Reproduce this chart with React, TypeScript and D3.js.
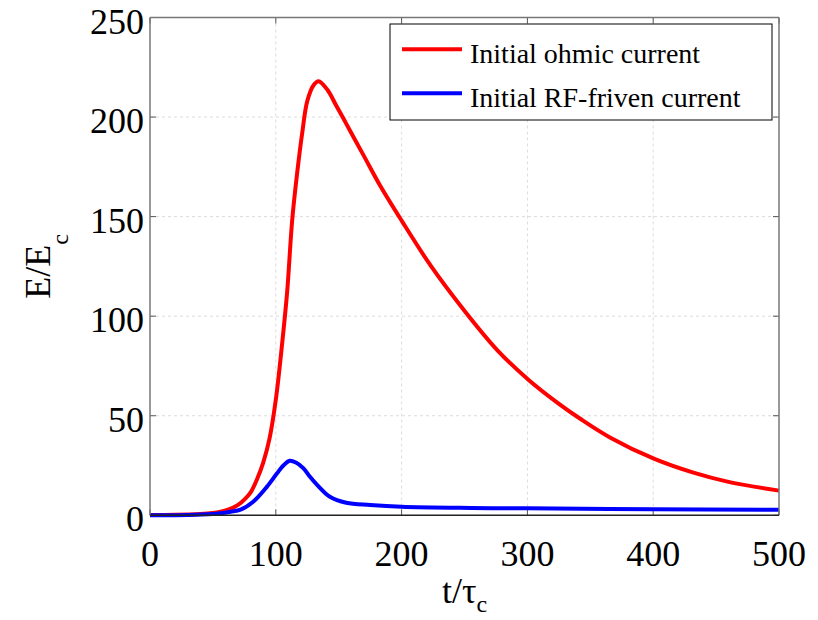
import React from 'react';
import * as d3 from 'd3';

// values
const ohmicT = [0, 20, 40, 50, 56, 62, 70, 76, 80, 85, 90, 95, 100, 105, 109, 113, 117, 121, 125, 130, 134, 141, 148, 154, 160, 170, 183, 200, 223, 249, 276, 301, 324, 342, 366, 401, 432, 459, 500];
const ohmicE = [0.2, 0.3, 0.7, 1.2, 1.8, 2.8, 5.2, 8.5, 11.5, 18, 26.5, 38.5, 58, 86, 112, 148, 172, 192, 208, 216, 218, 213.7, 205.8, 199, 192, 180.5, 165.5, 148, 125.5, 103.5, 83, 68, 56.5, 48.5, 39, 28.3, 21.4, 16.9, 12.4];

const rfT = [0, 30, 50, 56, 64, 72, 82, 93, 101, 106, 111, 116, 122, 127, 133, 143, 156, 175, 200, 255, 300, 400, 500];
const rfE = [0, 0.1, 0.6, 1, 1.8, 2.8, 6.8, 14.4, 21.1, 25, 27.4, 26.5, 23.6, 19.5, 15.2, 9.3, 6.3, 5.2, 4.3, 3.7, 3.5, 3.0, 2.8];

const xTicks = [0, 100, 200, 300, 400, 500];
const yTicks = [0, 50, 100, 150, 200, 250];
const legendLabels = ['Initial ohmic current', 'Initial RF-friven current'];
const seriesColors = ['#ff0000', '#0000ff'];

const W = 818;
const H = 620;
const left = 150, right = 779, top = 17.5, bottom = 515.3;
const font = '"Liberation Serif", "Times New Roman", serif';

export default function App() {
  const x = d3.scaleLinear().domain([0, 500]).range([left, right]);
  const y = d3.scaleLinear().domain([0, 250]).range([bottom, top]);

  const line = d3.line<[number, number]>()
    .x(d => x(d[0]))
    .y(d => y(d[1]))
    .curve(d3.curveCatmullRom.alpha(0.5));

  const series = [
    ohmicT.map((t, i) => [t, ohmicE[i]] as [number, number]),
    rfT.map((t, i) => [t, rfE[i]] as [number, number]),
  ];

  const tick = 6;

  return (
    <svg width={W} height={H} style={{ position: 'absolute', left: 0, top: 0, background: '#fff' }}>
      <rect x={0} y={0} width={W} height={H} fill="#fff" />

      {/* grid */}
      <g stroke="#dcdcdc" strokeWidth={1} strokeDasharray="3,3">
        {xTicks.slice(1, -1).map(t => (
          <line key={'gx' + t} x1={x(t)} x2={x(t)} y1={top} y2={bottom} />
        ))}
        {yTicks.slice(1, -1).map(t => (
          <line key={'gy' + t} x1={left} x2={right} y1={y(t)} y2={y(t)} />
        ))}
      </g>

      {/* ticks, pointing inward */}
      <g stroke="#555" strokeWidth={1}>
        {xTicks.map(t => (
          <g key={'tx' + t}>
            <line x1={x(t)} x2={x(t)} y1={bottom} y2={bottom - tick} />
            <line x1={x(t)} x2={x(t)} y1={top} y2={top + tick} />
          </g>
        ))}
        {yTicks.map(t => (
          <g key={'ty' + t}>
            <line x1={left} x2={left + tick} y1={y(t)} y2={y(t)} />
            <line x1={right} x2={right - tick} y1={y(t)} y2={y(t)} />
          </g>
        ))}
      </g>

      {/* curves */}
      {series.map((s, i) => (
        <path key={'s' + i} d={line(s) || ''} fill="none" stroke={seriesColors[i]} strokeWidth={4} strokeLinejoin="round" />
      ))}

      {/* axes box */}
      <line x1={left} x2={left} y1={top} y2={bottom} stroke="#777" strokeWidth={1.5} />
      <line x1={right} x2={right} y1={top} y2={bottom} stroke="#777" strokeWidth={1.5} />
      <line x1={left} x2={right} y1={top} y2={top} stroke="#777" strokeWidth={1.5} />
      <line x1={left} x2={right} y1={bottom} y2={bottom} stroke="#222" strokeWidth={1.5} />

      {/* tick labels */}
      <g fontFamily={font} fontSize={36} fill="#000">
        {xTicks.map(t => (
          <text key={'lx' + t} x={x(t)} y={566} textAnchor="middle">{t}</text>
        ))}
        {yTicks.map(t => (
          <text key={'ly' + t} x={144} y={y(t) + 16} textAnchor="end">{t}</text>
        ))}
      </g>

      {/* axis labels */}
      <text x={(left + right) / 2} y={603} textAnchor="middle" fontFamily={font} fontSize={36}>
        t/τ<tspan fontSize={24} dy={9}>c</tspan>
      </text>
      <text transform={`translate(50, ${(top + bottom) / 2}) rotate(-90)`} textAnchor="middle" fontFamily={font} fontSize={36}>
        E/E<tspan fontSize={24} dy={18}>c</tspan>
      </text>

      {/* legend */}
      <g>
        <rect x={390} y={24} width={382} height={96} fill="#fff" stroke="#000" strokeWidth={1} />
        {legendLabels.map((lab, i) => (
          <g key={'lg' + i}>
            <line x1={402} x2={462} y1={49.3 + i * 44} y2={49.3 + i * 44} stroke={seriesColors[i]} strokeWidth={4} />
            <text x={470} y={63.3 + i * 44} fontFamily={font} fontSize={28}>{lab}</text>
          </g>
        ))}
      </g>
    </svg>
  );
}
